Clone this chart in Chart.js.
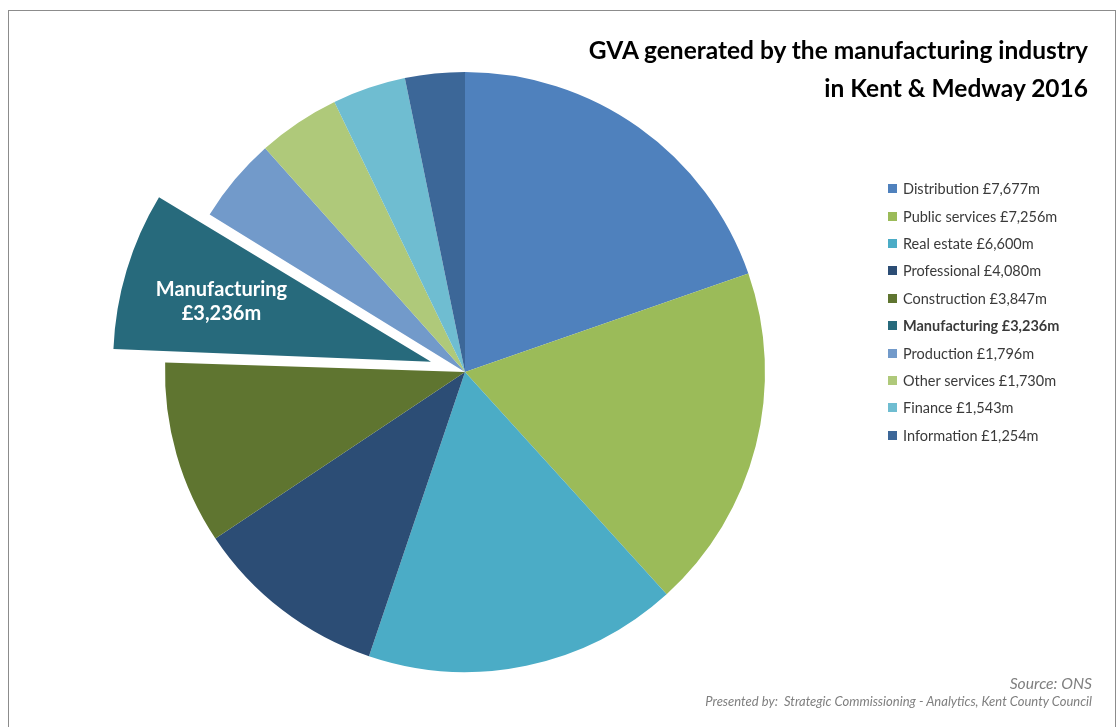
<!DOCTYPE html>
<html>
<head>
<meta charset="utf-8">
<script src="https://cdn.jsdelivr.net/npm/chart.js@4"></script>
<style>
  body { margin: 0; background: #fff; font-family: Lato, "Open Sans", sans-serif; }
  #wrap { position: relative; width: 1117px; height: 727px; overflow: hidden; }
  #frame { position: absolute; left: 8px; top: 10px; width: 1108px; height: 740px; border: 1.5px solid #8c8c8c; box-sizing: border-box; }
  #chart_gva { position: absolute; left: 0; top: 0; }
  #title { position: absolute; right: 29px; top: 31px; text-align: right; font-weight: bold; font-size: 24.5px; line-height: 38px; color: #000; }
  #legend { position: absolute; left: 888px; top: 175px; }
  .row { height: 27.4px; display: flex; align-items: center; font-size: 14.5px; color: #3a3a3a; }
  .sw { width: 9px; height: 9px; margin-right: 6px; }
  #footer { position: absolute; right: 25px; top: 673px; text-align: right; font-style: italic; color: #7f7f7f; }
</style>
</head>
<body>
<div id="wrap">
  <div id="frame"></div>
  <canvas id="chart_gva" width="1117" height="727"></canvas>
  <div id="title">GVA generated by the manufacturing industry<br>in Kent &amp; Medway 2016</div>
  <div id="legend"></div>
  <div id="footer">
    <div style="font-size:15.7px;line-height:20px">Source: ONS</div>
    <div style="font-size:13px;line-height:17px">Presented by:&nbsp; Strategic Commissioning - Analytics, Kent County Council</div>
  </div>
</div>
<script>
const sectors = ['Distribution', 'Public services', 'Real estate', 'Professional', 'Construction',
                 'Manufacturing', 'Production', 'Other services', 'Finance', 'Information'];
const gvaValues = [7677, 7256, 6600, 4080, 3847, 3236, 1796, 1730, 1543, 1254]; // £m
const sliceColors = ['#4f81bd', '#9bbb59', '#4bacc6', '#2c4d75', '#5f7530',
                     '#276a7c', '#729aca', '#afc97a', '#6fbdd1', '#3c6798'];
const highlight = 'Manufacturing';
const pullOut = 142; // chart.js arc offset (moves slice roughly 53px)

const fmt = v => '£' + v.toLocaleString('en-GB') + 'm';

// legend (html)
const legend = document.getElementById('legend');
sectors.forEach((s, i) => {
    const row = document.createElement('div');
    row.className = 'row';
    if (s === highlight) row.style.fontWeight = 'bold';
    row.innerHTML = '<span class="sw" style="background:' + sliceColors[i] + '"></span>' + s + ' ' + fmt(gvaValues[i]);
    legend.appendChild(row);
});

// white label inside the pulled-out slice
const sliceLabel = {
    id: 'sliceLabel',
    afterDatasetsDraw(chart) {
        const idx = sectors.indexOf(highlight);
        const arc = chart.getDatasetMeta(0).data[idx];
        const p = arc.getProps(['x', 'y', 'startAngle', 'endAngle', 'outerRadius', 'circumference', 'options']);
        const mid = (p.startAngle + p.endAngle) / 2;
        // same shift the arc element applies when drawing
        const off = p.options.offset / 4;
        const shift = off + off * (1 - Math.sin(Math.min(Math.PI, p.circumference)));
        const dist = shift + p.outerRadius * 0.67;
        const x = p.x + Math.cos(mid) * dist;
        const y = p.y + Math.sin(mid) * dist + 3;
        const c = chart.ctx;
        c.save();
        c.fillStyle = '#fff';
        c.font = 'bold 20px Lato, "Open Sans", sans-serif';
        c.textAlign = 'center';
        c.textBaseline = 'middle';
        c.fillText(highlight, x, y - 12);
        c.fillText(fmt(gvaValues[idx]), x, y + 12);
        c.restore();
    }
};

const ctx = document.getElementById('chart_gva').getContext('2d');
const gvaChart = new Chart(ctx, {
    type: 'pie',
    data: {
        labels: sectors,
        datasets: [{
            data: gvaValues,
            backgroundColor: sliceColors,
            borderWidth: 0,
            offset: sectors.map(s => s === highlight ? pullOut : 0)
        }]
    },
    options: {
        responsive: false,
        animation: false,
        radius: 300,
        layout: { padding: { left: 0, right: 187, top: 17, bottom: 0 } },
        plugins: {
            legend: { display: false },
            tooltip: { enabled: false }
        }
    },
    plugins: [sliceLabel]
});
</script>
</body>
</html>
